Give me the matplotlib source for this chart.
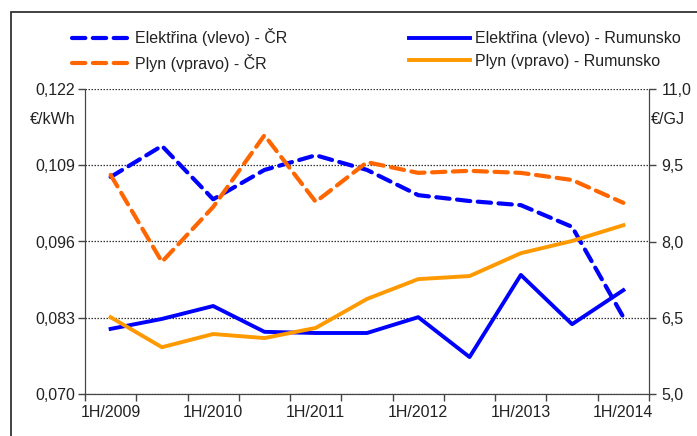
import numpy as np
import matplotlib.pyplot as plt
from matplotlib.patches import Rectangle

plt.rcParams['font.family'] = ['Liberation Sans', 'DejaVu Sans']

# pololetí
obdobi = ['1H/2009', '2H/2009', '1H/2010', '2H/2010', '1H/2011', '2H/2011',
          '1H/2012', '2H/2012', '1H/2013', '2H/2013', '1H/2014']
popisky = ['1H/2009', '1H/2010', '1H/2011', '1H/2012', '1H/2013', '1H/2014']

# elektrina EUR/kWh (leva osa)
elektrina_cr = [0.1070, 0.1123, 0.1032, 0.1082, 0.1107, 0.1082,
                0.1039, 0.1029, 0.1022, 0.0985, 0.0831]
elektrina_ro = [0.0811, 0.0828, 0.0850, 0.0806, 0.0804, 0.0804,
                0.0831, 0.0763, 0.0903, 0.0819, 0.0877]

# plyn EUR/GJ (prava osa)
plyn_cr = [9.31, 7.60, 8.68, 10.09, 8.78, 9.56, 9.35, 9.39, 9.35, 9.21, 8.76]
plyn_ro = [6.51, 5.92, 6.18, 6.10, 6.30, 6.87, 7.26, 7.32, 7.77, 8.01, 8.32]

left_ticks = [0.070, 0.083, 0.096, 0.109, 0.122]
right_ticks = [5.0, 6.5, 8.0, 9.5, 11.0]

txt = '#222222'
fs = 11.5
fig = plt.figure(figsize=(6.97, 4.36), dpi=100)

# ramecek kolem grafu
fig.patches.append(Rectangle((11/697, -0.1), 1.2, 1 - 12/436 + 0.1, transform=fig.transFigure,
                             fill=False, edgecolor='#333333', lw=1.3))

ax = fig.add_axes([85/697, 1 - 394/436, 564/697, 305/436])
ax2 = ax.twinx()

x = np.arange(len(obdobi)) + 0.5

l1, = ax.plot(x, elektrina_cr, color='#0000ff', lw=3, dashes=(3.2, 1.8),
              label='Elektřina (vlevo) - ČR', dash_capstyle='round')
l2, = ax.plot(x, elektrina_ro, color='#0000ff', lw=2.8, label='Elektřina (vlevo) - Rumunsko')
l3, = ax2.plot(x, plyn_cr, color='#ff6600', lw=3, dashes=(3.2, 1.8),
               label='Plyn (vpravo) - ČR', dash_capstyle='round')
l4, = ax2.plot(x, plyn_ro, color='#ff9900', lw=2.8, label='Plyn (vpravo) - Rumunsko')

ax.set_xlim(0, len(obdobi))
ax.set_ylim(0.070, 0.122)
ax2.set_ylim(5.0, 11.0)

ax.set_yticks(left_ticks)
ax.set_yticklabels([('%.3f' % v).replace('.', ',') for v in left_ticks])
ax2.set_yticks(right_ticks)
ax2.set_yticklabels([('%.1f' % v).replace('.', ',') for v in right_ticks])

ax.set_xticks(np.arange(len(obdobi) + 1))
ax.set_xticklabels([])
ax.set_xticks(np.arange(0, len(obdobi), 2) + 0.5, minor=True)
ax.set_xticklabels(popisky, minor=True)
ax.tick_params(axis='x', which='minor', length=0, pad=8)
ax.tick_params(axis='x', which='major', length=5, direction='out', color='#444444')

ax.tick_params(axis='y', length=5, direction='out', color='#444444', pad=2)
ax2.tick_params(axis='y', length=5, direction='out', color='#444444', pad=4)
for a in (ax, ax2):
    a.tick_params(which='both', labelsize=fs, labelcolor=txt, width=1)

ax.grid(axis='y', color='#333333', ls=(0, (1.2, 1.2)), lw=0.9)
ax.set_axisbelow(True)
for a in (ax, ax2):
    a.spines['top'].set_visible(False)
    a.spines['left'].set_color('#444444')
    a.spines['right'].set_color('#444444')
    a.spines['bottom'].set_color('#444444')

fig.text(30/697, 1 - 119/436, '€/kWh', fontsize=fs, color=txt, va='center')
fig.text(651/697, 1 - 120/436, '€/GJ', fontsize=fs, color=txt, va='center')

leg1 = fig.legend(handles=[l1, l3], loc='center left', bbox_to_anchor=(66/697, 1 - 50/436),
                  frameon=False, fontsize=fs, handlelength=3.6, handletextpad=0.3,
                  labelspacing=0.45, borderaxespad=0, labelcolor=txt)
leg2 = fig.legend(handles=[l2, l4], loc='center left', bbox_to_anchor=(403/697, 1 - 50/436),
                  frameon=False, fontsize=fs, handlelength=3.8, handletextpad=0.3,
                  labelspacing=0.45, borderaxespad=0, labelcolor=txt)

fig.savefig('out.png', dpi=100)
